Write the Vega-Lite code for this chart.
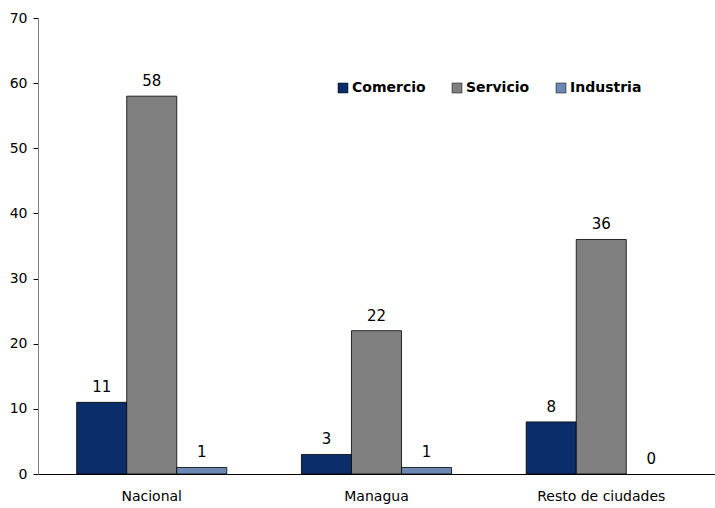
{
  "$schema": "https://vega.github.io/schema/vega-lite/v6.json",
  "width": 677,
  "height": 456,
  "autosize": {"type": "none"},
  "padding": {"left": 38, "top": 18, "right": 0, "bottom": 34},
  "background": "white",
  "config": {
    "view": {"stroke": null},
    "font": "DejaVu Sans",
    "axis": {"labelFont": "DejaVu Sans", "labelFontSize": 14, "labelColor": "#000", "grid": false}
  },
  "data": {
    "values": [
      {"region": "Nacional", "sector": "Comercio", "value": 11},
      {"region": "Nacional", "sector": "Servicio", "value": 58},
      {"region": "Nacional", "sector": "Industria", "value": 1},
      {"region": "Managua", "sector": "Comercio", "value": 3},
      {"region": "Managua", "sector": "Servicio", "value": 22},
      {"region": "Managua", "sector": "Industria", "value": 1},
      {"region": "Resto de ciudades", "sector": "Comercio", "value": 8},
      {"region": "Resto de ciudades", "sector": "Servicio", "value": 36},
      {"region": "Resto de ciudades", "sector": "Industria", "value": 0}
    ]
  },
  "encoding": {
    "x": {
      "field": "region", "type": "nominal", "sort": ["Nacional", "Managua", "Resto de ciudades"],
      "scale": {"paddingInner": 0.332, "paddingOuter": 0.172},
      "axis": {"title": null, "labelAngle": 0, "ticks": false, "domainColor": "#000", "labelPadding": 15}
    },
    "xOffset": {"field": "sector", "type": "nominal", "sort": ["Comercio", "Servicio", "Industria"], "scale": {"paddingInner": 0, "paddingOuter": 0}},
    "y": {
      "field": "value", "type": "quantitative",
      "scale": {"domain": [0, 70], "nice": false},
      "axis": {"title": null, "values": [0, 10, 20, 30, 40, 50, 60, 70], "domainColor": "#808080", "tickColor": "#000", "tickSize": 5, "labelPadding": 6}
    }
  },
  "layer": [
    {
      "mark": {"type": "bar", "stroke": "#000"},
      "encoding": {
        "color": {
          "field": "sector", "type": "nominal",
          "sort": ["Comercio", "Servicio", "Industria"],
          "scale": {"domain": ["Comercio", "Servicio", "Industria"], "range": ["#0b2d69", "#808080", "#6d88b3"]},
          "legend": {
            "title": null, "orient": "none", "direction": "horizontal",
            "legendX": 298, "legendY": 63,
            "symbolType": "square", "symbolSize": 100, "symbolStrokeColor": "#000", "symbolStrokeWidth": 0.5,
            "labelFont": "DejaVu Sans", "labelFontSize": 14, "labelFontWeight": "bold", "labelColor": "#000",
            "columnPadding": 24, "labelOffset": 2
          }
        },
        "strokeWidth": {"condition": {"test": "datum.value > 0", "value": 0.8}, "value": 0}
      }
    },
    {
      "mark": {"type": "text", "dy": -15, "fontSize": 15, "color": "#000", "font": "DejaVu Sans"},
      "encoding": {"text": {"field": "value", "type": "quantitative"}}
    }
  ]
}
